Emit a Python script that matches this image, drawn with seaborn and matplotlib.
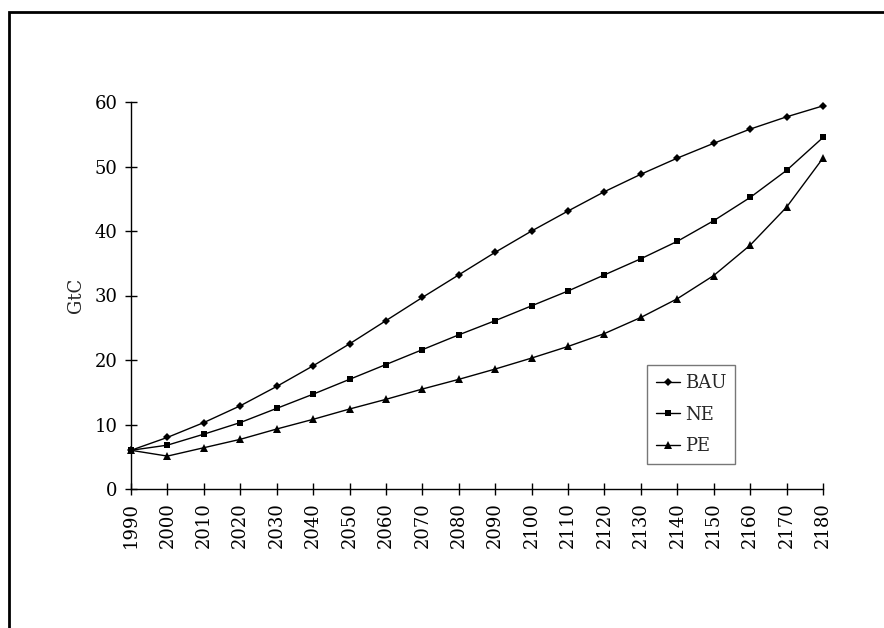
import matplotlib
matplotlib.use("Agg")
import matplotlib.pyplot as plt
import matplotlib.patches as mpatches
import seaborn as sns
import pandas as pd

years = list(range(1990, 2181, 10))
bau = [6.0, 8.0, 10.3, 12.9, 15.9, 19.1, 22.5, 26.1, 29.7, 33.2, 36.7, 40.0, 43.1, 46.1, 48.8, 51.3, 53.6, 55.8, 57.7, 59.4]
ne = [6.0, 6.8, 8.5, 10.3, 12.5, 14.7, 17.0, 19.3, 21.6, 23.9, 26.1, 28.4, 30.7, 33.2, 35.7, 38.4, 41.6, 45.2, 49.4, 54.5]
pe = [6.0, 5.1, 6.4, 7.7, 9.3, 10.8, 12.4, 13.9, 15.5, 17.0, 18.6, 20.3, 22.1, 24.1, 26.6, 29.5, 33.1, 37.8, 43.7, 51.3]
series_names = ["BAU", "NE", "PE"]
y_ticks = [0, 10, 20, 30, 40, 50, 60]

df = pd.DataFrame({
    "year": years * 3,
    "GtC": bau + ne + pe,
    "scenario": [series_names[0]] * len(years) + [series_names[1]] * len(years) + [series_names[2]] * len(years),
})

sns.set_theme(style="white")
plt.rcParams["font.family"] = ["DejaVu Serif"]

fig = plt.figure(figsize=(8.84, 6.28), dpi=100)
ax = fig.add_axes([131/884, 1 - 489/628, (823-131)/884, (489-102)/628])

sns.lineplot(data=df, x="year", y="GtC", hue="scenario", style="scenario",
             palette=["black"] * 3, markers={"BAU": "D", "NE": "s", "PE": "^"},
             dashes=False, linewidth=1.0, markeredgewidth=0,
             ax=ax, clip_on=False, legend=True)
for ln, ms in zip(ax.lines, [3.6, 4.8, 5.2]):
    ln.set_markersize(ms)

ax.set_xlim(1990, 2180)
ax.set_ylim(0, 60)
ax.set_xticks(years)
ax.set_xticklabels([str(y) for y in years], rotation=90)
ax.set_yticks(y_ticks)
ax.set_xlabel("")
ax.set_ylabel("GtC", fontsize=13, labelpad=7)
for s in ["top", "right"]:
    ax.spines[s].set_visible(False)
for s in ["left", "bottom"]:
    ax.spines[s].set_color("black")
    ax.spines[s].set_linewidth(1.0)
ax.tick_params(axis="both", direction="inout", length=9, width=1.0, colors="black",
               labelsize=13, left=True, bottom=True, pad=5)
ax.grid(False)

handles, labels = ax.get_legend_handles_labels()
for h, ms in zip(handles, [3.6, 4.8, 5.2]):
    h.set_markersize(ms)
leg = ax.legend(handles, labels, loc="upper left", bbox_to_anchor=((647-131)/692, 1 - (365-102)/387),
                frameon=True, fancybox=False, handlelength=1.3, handletextpad=0.3,
                borderpad=0.5, labelspacing=0.75, fontsize=13, borderaxespad=0)
leg.get_frame().set_edgecolor("#555555")
leg.get_frame().set_linewidth(1.0)
leg._legend_box.align = "left"

fig.patches.append(mpatches.Rectangle((9/884, -0.1), 1.2, 1 - 12/628 + 0.1,
                                      transform=fig.transFigure, fill=False,
                                      edgecolor="black", linewidth=2, figure=fig))

fig.savefig("out.png", dpi=100)
